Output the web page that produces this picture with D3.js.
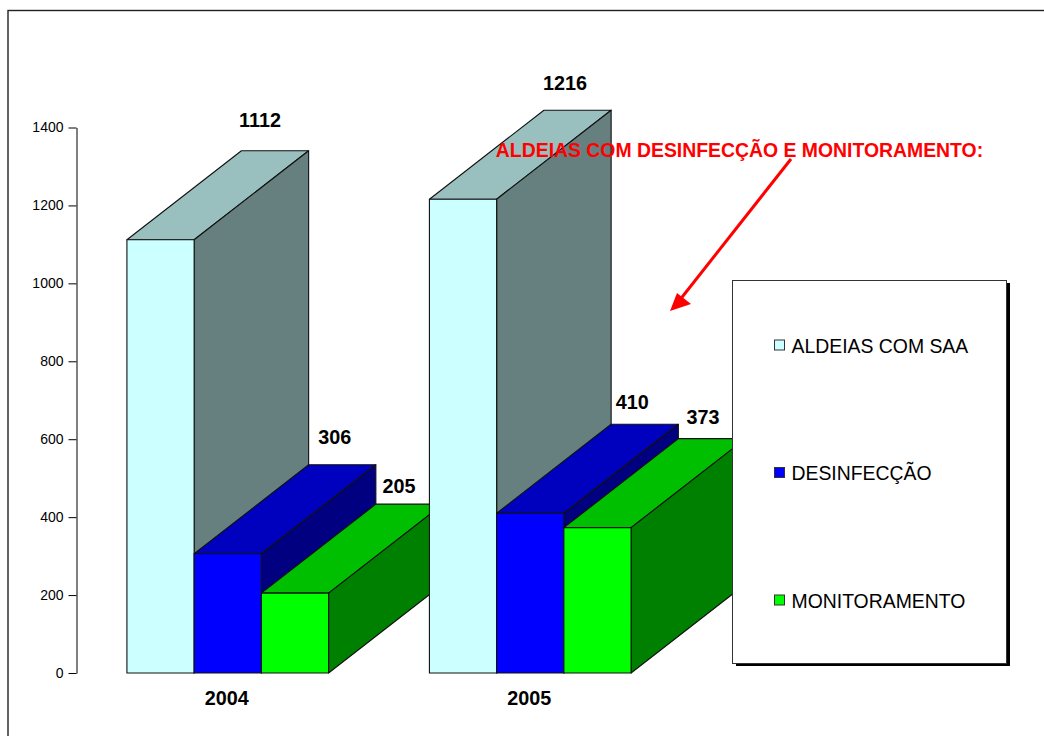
<!DOCTYPE html>
<html>
<head>
<meta charset="utf-8">
<script src="https://cdn.jsdelivr.net/npm/d3@7"></script>
<style>
    html, body { margin: 0; padding: 0; background: #fff; overflow: hidden; }
    svg { display: block; font-family: "Liberation Sans", Arial, sans-serif; }
</style>
</head>
<body>
<svg id="chart"></svg>
<script>
const years = ["2004", "2005"];
const seriesNames = ["ALDEIAS COM SAA", "DESINFECÇÃO", "MONITORAMENTO"];
const aldeiasValues = [1112, 1216];
const desinfeccaoValues = [306, 410];
const monitoramentoValues = [205, 373];
const yTicks = [0, 200, 400, 600, 800, 1000, 1200, 1400];
const noteText = "ALDEIAS COM DESINFECÇÃO E MONITORAMENTO:";

const seriesValues = [aldeiasValues, desinfeccaoValues, monitoramentoValues];

const W = 1044, H = 736;
const svg = d3.select("#chart").attr("width", W).attr("height", H);

const axisX = 76.5, y0 = 673, yTop = 127.5, plotW = 605;
const depthX = 114.5, depthY = -89;

const yScale = d3.scaleLinear().domain([0, 1400]).range([y0, yTop]);
const xYear = d3.scaleBand().domain(years).range([axisX, axisX + plotW])
    .paddingInner(1 / 3).paddingOuter(1 / 6);
const xSeries = d3.scaleBand().domain(seriesNames).range([0, xYear.bandwidth()]);

const colors = [
    { front: "#CCFFFF", top: "#99BFBF", side: "#668080" },
    { front: "#0000FF", top: "#0000BF", side: "#000080" },
    { front: "#00FF00", top: "#00BF00", side: "#008000" }
];
// the value labels do not sit exactly on the box, small nudge per label
const labelNudge = [
    [{ dx: 99.5, dy: -113 }, { dx: 102, dy: -109 }],
    [{ dx: 107, dy: -110 }, { dx: 102, dy: -104 }],
    [{ dx: 104, dy: -100 }, { dx: 105.5, dy: -104 }]
];

// outer frame, runs off the right and bottom of the page
svg.append("rect")
    .attr("x", 8).attr("y", 10.5)
    .attr("width", W + 20).attr("height", H + 20)
    .attr("fill", "#fff").attr("stroke", "#222").attr("stroke-width", 1.4);

// bars, back to front
years.forEach((year, yi) => {
    const g = svg.append("g").attr("class", "year-" + year);
    seriesNames.forEach((name, si) => {
        const v = seriesValues[si][yi];
        const x1 = xYear(year) + xSeries(name);
        const x2 = x1 + xSeries.bandwidth();
        const yv = yScale(v);
        const c = colors[si];
        const face = (pts, fill) => g.append("polygon")
            .attr("points", pts.map(p => p.join(",")).join(" "))
            .attr("fill", fill)
            .attr("stroke", "#111")
            .attr("stroke-width", 1.1)
            .attr("stroke-linejoin", "round");
        face([[x1, yv], [x1 + depthX, yv + depthY], [x2 + depthX, yv + depthY], [x2, yv]], c.top);
        face([[x2, yv], [x2 + depthX, yv + depthY], [x2 + depthX, y0 + depthY], [x2, y0]], c.side);
        face([[x1, yv], [x2, yv], [x2, y0], [x1, y0]], c.front);
    });
});

// value labels
years.forEach((year, yi) => {
    seriesNames.forEach((name, si) => {
        const v = seriesValues[si][yi];
        svg.append("text")
            .attr("x", xYear(year) + xSeries(name) + xSeries.bandwidth() / 2 + labelNudge[si][yi].dx)
            .attr("y", yScale(v) + labelNudge[si][yi].dy)
            .attr("text-anchor", "middle")
            .style("font-size", "19.8px")
            .style("font-weight", "bold")
            .style("fill", "#000")
            .text(v);
    });
});

// y axis
const yAxis = svg.append("g")
    .attr("transform", `translate(${axisX},0)`)
    .call(d3.axisLeft(yScale).tickValues(yTicks).tickFormat(d3.format("d")).tickSize(8).tickSizeOuter(0).tickPadding(5));
yAxis.selectAll("text").style("font-size", "14px").style("font-family", "inherit").style("fill", "#000");
yAxis.selectAll("line, path").attr("stroke", "#000");

// year labels
svg.selectAll(".year-label")
    .data(years)
    .enter().append("text")
    .attr("class", "year-label")
    .attr("x", d => xYear(d) + xYear.bandwidth() / 2 - 1)
    .attr("y", 705)
    .attr("text-anchor", "middle")
    .style("font-size", "19.8px")
    .style("font-weight", "bold")
    .text(d => d);

// legend
const legendY = d3.scalePoint().domain(seriesNames).range([345.5, 600.5]);
const legendBox = { x: 733, y: 280, w: 274, h: 383 };
svg.append("rect")
    .attr("x", legendBox.x + 3).attr("y", legendBox.y + 3)
    .attr("width", legendBox.w).attr("height", legendBox.h)
    .attr("fill", "#000");
svg.append("rect")
    .attr("x", legendBox.x - 0.5).attr("y", legendBox.y + 0.5)
    .attr("width", legendBox.w).attr("height", legendBox.h)
    .attr("fill", "#fff").attr("stroke", "#333").attr("stroke-width", 1);

const legendItems = svg.selectAll(".legend-item")
    .data(seriesNames)
    .enter().append("g")
    .attr("class", "legend-item")
    .attr("transform", d => `translate(774,${legendY(d)})`);
legendItems.append("rect")
    .attr("x", 0.5).attr("y", -5.5)
    .attr("width", 10).attr("height", 10)
    .attr("fill", (d, i) => colors[i].front)
    .attr("stroke", "#333");
legendItems.append("text")
    .attr("x", 17.5)
    .attr("y", 7)
    .style("font-size", "19.4px")
    .style("fill", "#000")
    .text(d => d);

// red note and arrow
svg.append("text")
    .attr("x", 739.5)
    .attr("y", 157)
    .attr("text-anchor", "middle")
    .style("font-size", "19.4px")
    .style("font-weight", "bold")
    .style("fill", "#FF0000")
    .text(noteText);

svg.append("line")
    .attr("x1", 791).attr("y1", 159)
    .attr("x2", 679).attr("y2", 301)
    .attr("stroke", "#FF0000").attr("stroke-width", 3);
svg.append("polygon")
    .attr("points", "670,311 677,293 691,304")
    .attr("fill", "#FF0000");
</script>
</body>
</html>
